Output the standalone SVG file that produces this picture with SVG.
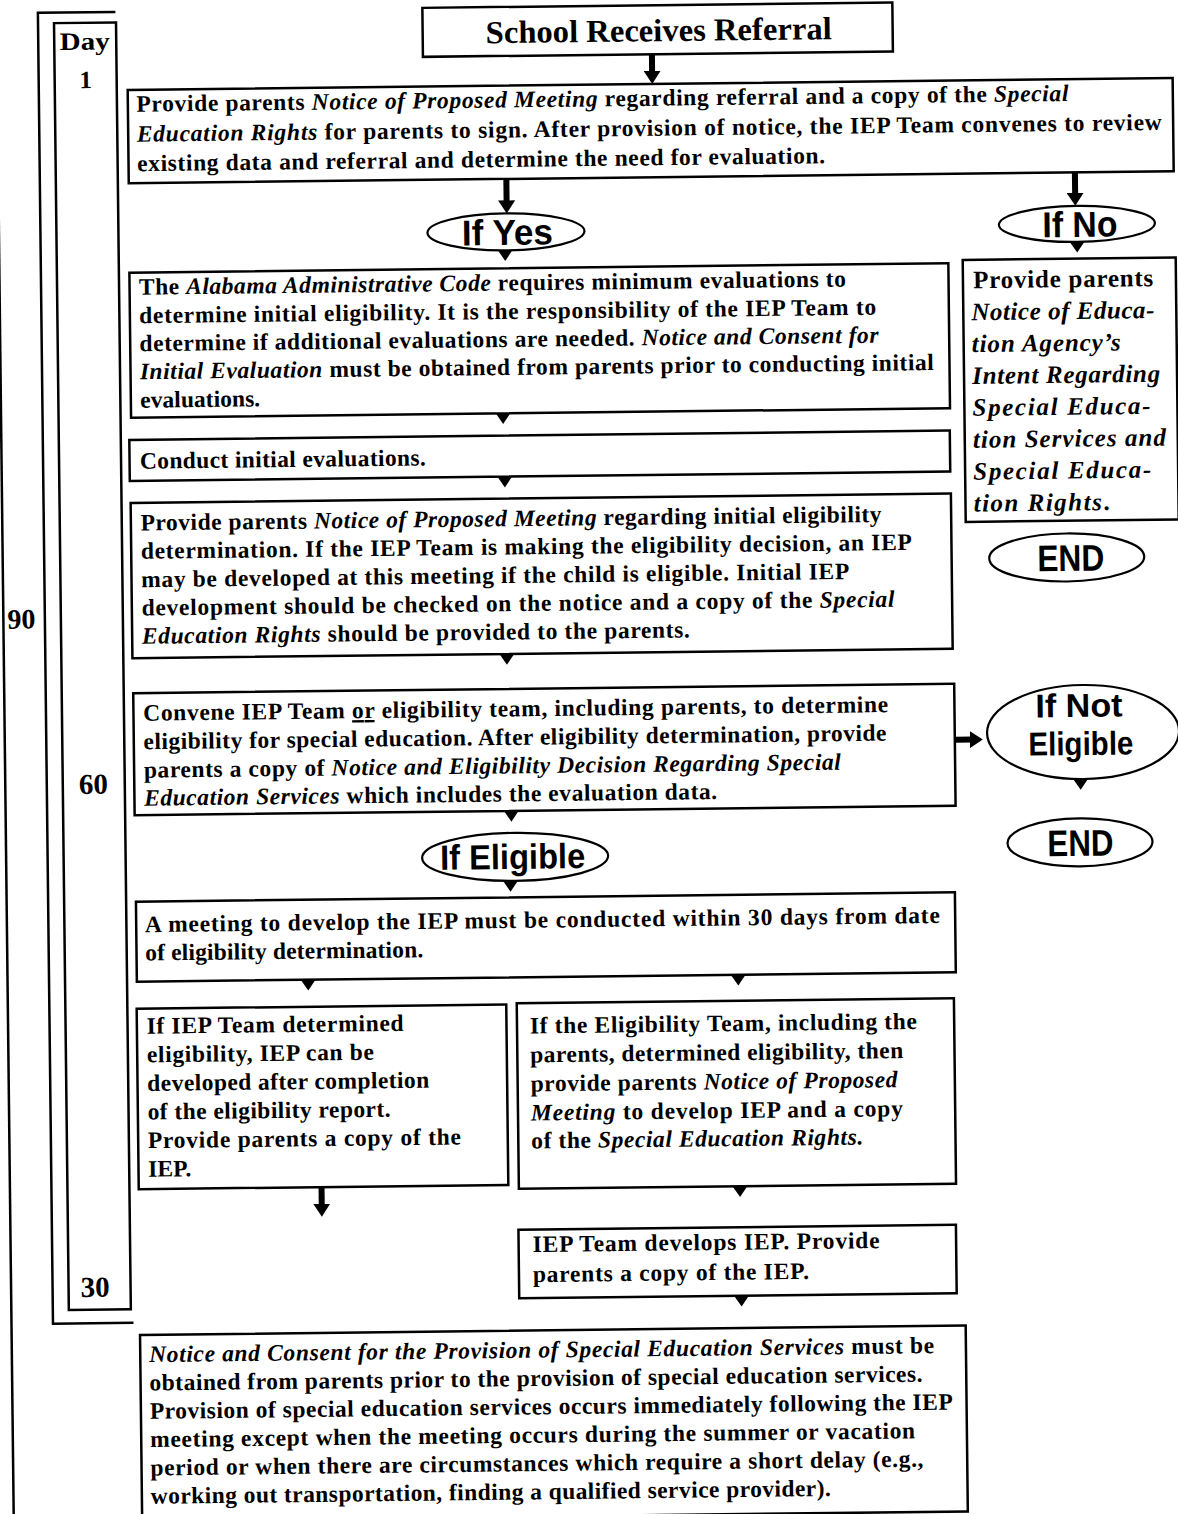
<svg xmlns="http://www.w3.org/2000/svg" xmlns:xlink="http://www.w3.org/1999/xlink" width="1178" height="1514" viewBox="0 0 1178 1514">
<style>
.box{fill:#fff;stroke:#000;stroke-width:2.5}
.ov{fill:#fff;stroke:#000;stroke-width:2.2}
.ln{fill:none;stroke:#000;stroke-width:2.5}
.t{font-family:"Liberation Serif","Times New Roman",serif;font-weight:bold;font-size:23.5px;fill:#000}
.nb .t{font-size:25px}
.i{font-style:italic;font-weight:bold}
.bi{font-style:italic;font-weight:bold}
.u{text-decoration:underline}
.o{font-family:"Liberation Sans",Arial,sans-serif;font-weight:bold;text-anchor:middle;fill:#000}
.day{font-family:"Liberation Serif","Times New Roman",serif;font-weight:bold;text-anchor:middle;fill:#000}
.ar{stroke:#000;stroke-width:6;fill:none}
</style>
<defs>
<marker id="ah" markerUnits="userSpaceOnUse" viewBox="0 0 13 17" markerWidth="13" markerHeight="17" refX="3" refY="8.5" orient="auto"><path d="M0,0 L13,8.5 L0,17 Z" fill="#000"/></marker>
<path id="tri" d="M-7.5,0 L7.5,0 L0,11 Z" fill="#000"/>
</defs>
<rect width="1178" height="1514" fill="#fff"/>
<g transform="rotate(-0.66 589 757)">
<g id="timeline">
<line class="ln" x1="5" y1="180" x2="5" y2="1540"/>
<path class="ln" d="M124,6.5 H46.5 V1317.5 H127"/>
<rect class="ln" x="62.5" y="17" width="62" height="1287"/>
<text class="day" x="93" y="44" font-size="25" textLength="50" lengthAdjust="spacingAndGlyphs">Day</text>
<text class="day" x="93.5" y="82.5" font-size="25">1</text>
<text class="day" x="23" y="622" font-size="28">90</text>
<text class="day" x="93" y="788" font-size="29">60</text>
<text class="day" x="89" y="1291" font-size="29">30</text>
</g>
<g id="n-referral">
<rect class="box" x="431" y="6" width="470" height="49"/>
<text class="t" x="667" y="42" style="font-size:32px" text-anchor="middle" textLength="346" lengthAdjust="spacingAndGlyphs">School Receives Referral</text>
</g>
<g id="n-notice">
<rect class="box" x="135.4" y="84.7" width="1045" height="93.3"/>
<text class="t" x="144" y="106.5" textLength="932">Provide parents <tspan class="i">Notice of Proposed Meeting</tspan> regarding referral and a copy of the <tspan class="i">Special</tspan></text>
<text class="t" x="144" y="136.5" textLength="1025"><tspan class="i">Education Rights</tspan> for parents to sign. After provision of notice, the IEP Team convenes to review</text>
<text class="t" x="144" y="166" textLength="688">existing data and referral and determine the need for evaluation.</text>
</g>
<g id="n-ifyes">
<ellipse class="ov" cx="512" cy="231" rx="78.5" ry="18.5"/>
<text class="o" x="513.5" y="244" font-size="36" textLength="91" lengthAdjust="spacingAndGlyphs">If Yes</text>
</g>
<g id="n-ifno">
<ellipse class="ov" cx="1083" cy="229.6" rx="78" ry="18"/>
<text class="o" x="1086" y="242.5" font-size="36" textLength="75" lengthAdjust="spacingAndGlyphs">If No</text>
</g>
<g id="n-ifnobox" class="nb">
<rect class="box" x="968.4" y="264.3" width="213" height="262"/>
<text class="t" x="978.7" y="292.7" textLength="180">Provide parents</text>
<text class="t bi" x="976.5" y="324.6" textLength="183">Notice of Educa-</text>
<text class="t bi" x="976.5" y="356.5" textLength="149">tion Agency’s</text>
<text class="t bi" x="976.5" y="388.4" textLength="188">Intent Regarding</text>
<text class="t bi" x="976.5" y="420.3" textLength="178">Special Educa-</text>
<text class="t bi" x="976.5" y="452.2" textLength="193">tion Services and</text>
<text class="t bi" x="976.5" y="484.1" textLength="178">Special Educa-</text>
<text class="t" x="976.5" y="516" textLength="136"><tspan class="bi">tion Rights</tspan>.</text>
</g>
<g id="n-end1">
<ellipse class="ov" cx="1069" cy="563" rx="77.5" ry="24"/>
<text class="o" x="1073" y="576.5" font-size="37" textLength="67" lengthAdjust="spacingAndGlyphs">END</text>
</g>
<g id="n-alabama">
<rect class="box" x="135" y="267.4" width="819" height="145"/>
<text class="t" x="144.3" y="289.5" textLength="707">The <tspan class="i">Alabama Administrative Code</tspan> requires minimum evaluations to</text>
<text class="t" x="144.3" y="318" textLength="737">determine initial eligibility. It is the responsibility of the IEP Team to</text>
<text class="t" x="144.3" y="346" textLength="739">determine if additional evaluations are needed. <tspan class="i">Notice and Consent for</tspan></text>
<text class="t" x="144.3" y="374" textLength="794"><tspan class="i">Initial Evaluation</tspan> must be obtained from parents prior to conducting initial</text>
<text class="t" x="144.3" y="402.5" textLength="120">evaluations.</text>
</g>
<g id="n-conduct">
<rect class="box" x="133" y="434.7" width="820.5" height="41"/>
<text class="t" x="143.3" y="463.5" textLength="286">Conduct initial evaluations.</text>
</g>
<g id="n-eligmeeting">
<rect class="box" x="133.6" y="497.7" width="820.3" height="155.3"/>
<text class="t" x="143.3" y="525.3" textLength="741">Provide parents <tspan class="i">Notice of Proposed Meeting</tspan> regarding initial eligibility</text>
<text class="t" x="143.3" y="553.6" textLength="771">determination. If the IEP Team is making the eligibility decision, an IEP</text>
<text class="t" x="143.3" y="582" textLength="708">may be developed at this meeting if the child is eligible. Initial IEP</text>
<text class="t" x="143.3" y="610.3" textLength="753">development should be checked on the notice and a copy of the <tspan class="i">Special</tspan></text>
<text class="t" x="143.3" y="638.6" textLength="548"><tspan class="i">Education Rights</tspan> should be provided to the parents.</text>
</g>
<g id="n-convene">
<rect class="box" x="134" y="688" width="821" height="122"/>
<text class="t" x="143.7" y="715.5" textLength="745">Convene IEP Team <tspan class="u">or</tspan> eligibility team, including parents, to determine</text>
<text class="t" x="143.7" y="744" textLength="743">eligibility for special education. After eligibility determination, provide</text>
<text class="t" x="143.7" y="772.5" textLength="697">parents a copy of <tspan class="i">Notice and Eligibility Decision Regarding Special</tspan></text>
<text class="t" x="143.7" y="800.5" textLength="573"><tspan class="i">Education Services</tspan> which includes the evaluation data.</text>
</g>
<g id="n-ifnotelig">
<ellipse class="ov" cx="1083.3" cy="737.7" rx="96" ry="47"/>
<text class="o" x="1079.5" y="722.6" font-size="33" textLength="87" lengthAdjust="spacingAndGlyphs">If Not</text>
<text class="o" x="1081" y="760.7" font-size="33" textLength="105" lengthAdjust="spacingAndGlyphs">Eligible</text>
</g>
<g id="n-end2">
<ellipse class="ov" cx="1079" cy="848" rx="72.5" ry="24"/>
<text class="o" x="1079.4" y="861.5" font-size="37" textLength="66" lengthAdjust="spacingAndGlyphs">END</text>
</g>
<g id="n-ifelig">
<ellipse class="ov" cx="514" cy="856" rx="93" ry="24"/>
<text class="o" x="511.5" y="868" font-size="35" textLength="145" lengthAdjust="spacingAndGlyphs">If Eligible</text>
</g>
<g id="n-meeting30">
<rect class="box" x="134.3" y="896.5" width="819" height="80"/>
<text class="t" x="143" y="927" textLength="795">A meeting to develop the IEP must be conducted within 30 days from date</text>
<text class="t" x="143" y="955.3" textLength="278">of eligibility determination.</text>
</g>
<g id="n-iepteam">
<rect class="box" x="133.8" y="1003.5" width="369.6" height="180.5"/>
<text class="t" x="143.5" y="1028.6" textLength="257">If IEP Team determined</text>
<text class="t" x="143.5" y="1057.2" textLength="227">eligibility, IEP can be</text>
<text class="t" x="143.5" y="1085.8" textLength="282">developed after completion</text>
<text class="t" x="143.5" y="1114.4" textLength="243">of the eligibility report.</text>
<text class="t" x="143.5" y="1143" textLength="313">Provide parents a copy of the</text>
<text class="t" x="143.5" y="1171.6" textLength="43">IEP.</text>
</g>
<g id="n-eligteam">
<rect class="box" x="513.9" y="1002.5" width="437.2" height="185.5"/>
<text class="t" x="526.8" y="1032.7" textLength="387">If the Eligibility Team, including the</text>
<text class="t" x="526.8" y="1061.7" textLength="373">parents, determined eligibility, then</text>
<text class="t" x="526.8" y="1090.7" textLength="367">provide parents <tspan class="i">Notice of Proposed</tspan></text>
<text class="t" x="526.8" y="1119.7" textLength="372"><tspan class="i">Meeting</tspan> to develop IEP and a copy</text>
<text class="t" x="526.8" y="1147.7" textLength="332">of the <tspan class="i">Special Education Rights.</tspan></text>
</g>
<g id="n-iepdev">
<rect class="box" x="513" y="1229" width="437.5" height="68.5"/>
<text class="t" x="527" y="1251.4" textLength="347">IEP Team develops IEP. Provide</text>
<text class="t" x="527" y="1281.4" textLength="276">parents a copy of the IEP.</text>
</g>
<g id="n-consent">
<rect class="box" x="133.4" y="1329.8" width="825.7" height="186"/>
<text class="t" x="142.3" y="1357" textLength="785"><tspan class="i">Notice and Consent for the Provision of Special Education Services</tspan> must be</text>
<text class="t" x="142.3" y="1385.4" textLength="773">obtained from parents prior to the provision of special education services.</text>
<text class="t" x="142.3" y="1413.7" textLength="803">Provision of special education services occurs immediately following the IEP</text>
<text class="t" x="142.3" y="1442" textLength="765">meeting except when the meeting occurs during the summer or vacation</text>
<text class="t" x="142.3" y="1470.4" textLength="773">period or when there are circumstances which require a short delay (e.g.,</text>
<text class="t" x="142.3" y="1498.7" textLength="680">working out transportation, finding a qualified service provider).</text>
</g>
<g id="connectors">
<line class="ar" x1="660" y1="55" x2="660" y2="74.7" marker-end="url(#ah)"/>
<line class="ar" x1="513" y1="178" x2="513" y2="202.5" marker-end="url(#ah)"/>
<line class="ar" x1="1081.6" y1="178" x2="1081.6" y2="201.5" marker-end="url(#ah)"/>
<line class="ar" x1="955" y1="744" x2="973" y2="744" marker-end="url(#ah)"/>
<line class="ar" x1="316.6" y1="1184" x2="316.6" y2="1203.6" marker-end="url(#ah)"/>
<use xlink:href="#tri" x="511" y="249"/>
<use xlink:href="#tri" x="1083" y="247.2"/>
<use xlink:href="#tri" x="507" y="412"/>
<use xlink:href="#tri" x="508" y="475.5"/>
<use xlink:href="#tri" x="508" y="652.8"/>
<use xlink:href="#tri" x="510.7" y="809.8"/>
<use xlink:href="#tri" x="509" y="879.8"/>
<use xlink:href="#tri" x="1080.3" y="784.5"/>
<use xlink:href="#tri" x="305.6" y="976.3"/>
<use xlink:href="#tri" x="735.7" y="976.3"/>
<use xlink:href="#tri" x="735" y="1187.8"/>
<use xlink:href="#tri" x="735.3" y="1297.3"/>
</g>
</g>
</svg>
